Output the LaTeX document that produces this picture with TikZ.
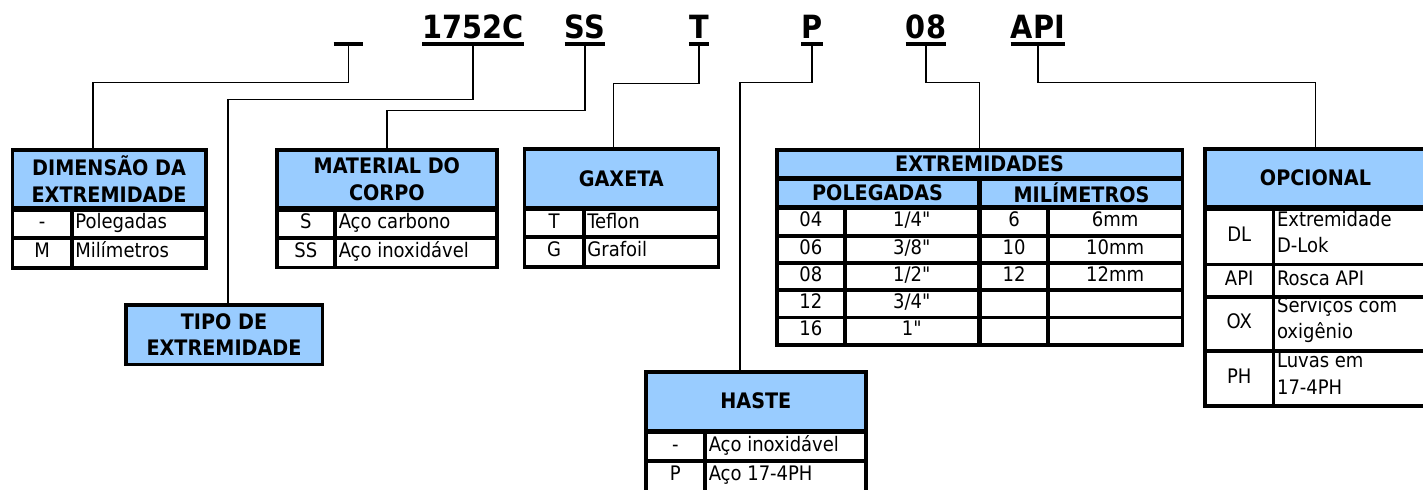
\documentclass[tikz,border=0pt]{standalone}
\usepackage{fontspec}
\setmainfont{DejaVu Sans Condensed}[Ligatures=TeXOff]
\usepackage{tikz}
\usetikzlibrary{calc}
\definecolor{hdrblue}{RGB}{153,204,255}

\begin{document}
\begin{tikzpicture}[x=0.75pt,y=-0.75pt,
  code/.style={font=\fontsize{24}{28}\selectfont\bfseries,inner sep=0pt,anchor=base,text depth=4.5pt},
  uline/.style={line width=3pt},
  conn/.style={line width=1.1pt},
  hdr/.style={draw,fill=hdrblue,line width=2.7pt,inner sep=0pt,font=\fontsize{16}{20}\selectfont\bfseries},
  hdr2/.style={hdr,align=center},
  cellbox/.style={draw,line width=2.7pt},
  val/.style={inner sep=0pt,font=\fontsize{15}{20}\selectfont,text height=0.73em,text depth=0pt},
  desc/.style={val,anchor=west},
  desc2/.style={inner sep=0pt,anchor=west,align=left,font=\fontsize{15}{20}\selectfont}]
\useasboundingbox (0,0) rectangle (1423,489);
\clip (0,0) rectangle (1423,489);

% code line
\node[code,minimum width=21.75pt] (cblank) at (348.5,38) {};
\node[code] (cbase) at (473,38) {1752C};
\node[code] (cbody) at (585,38) {SS};
\node[code] (cgask) at (699,38) {T};
\node[code] (cstem) at (812,38) {P};
\node[code] (cend) at (926,38) {08};
\node[code] (copt) at (1038,38) {API};
\foreach \n in {cblank,cbase,cbody,cgask,cstem,cend,copt}
  \draw[uline] (\n.south west) -- (\n.south east);

% dimensao da extremidade
\node[hdr2,minimum width=144.9pt,minimum height=43.5pt] (dimhdr) at (109.1,179) {DIMENSÃO DA\\EXTREMIDADE};
\draw[cellbox] (12.5,210) rectangle (71.7,238) (71.7,210) rectangle (205.7,238);
\draw[cellbox] (12.5,238) rectangle (71.7,267.7) (71.7,238) rectangle (205.7,267.7);
\node[val] (dimp) at (42.1,224) {-};
\node[desc] (dimpt) at (75.2,224) {Polegadas};
\node[val] (dimm) at (42.1,252.8) {M};
\node[desc] (dimmt) at (75.2,252.8) {Milímetros};

% tipo de extremidade
\node[hdr2,minimum width=147.45pt,minimum height=44.5pt] (tipohdr) at (224,334.65) {TIPO DE\\EXTREMIDADE};

% material do corpo
\node[hdr2,minimum width=165.2pt,minimum height=43.5pt] (mathdr) at (386.85,179) {MATERIAL DO\\CORPO};
\draw[cellbox] (276.7,210) rectangle (335,238) (335,210) rectangle (497,238);
\draw[cellbox] (276.7,238) rectangle (335,267.5) (335,238) rectangle (497,267.5);
\node[val] (mats) at (305.8,224) {S};
\node[desc] (matst) at (338.5,224) {Aço carbono};
\node[val] (matss) at (305.8,252.8) {SS};
\node[desc] (matsst) at (338.5,252.8) {Aço inoxidável};

% gaxeta
\node[hdr,minimum width=145.5pt,minimum height=43.9pt] (gaxhdr) at (621.3,178.25) {GAXETA};
\draw[cellbox] (524.3,209.5) rectangle (583.7,237) (583.7,209.5) rectangle (718.3,237);
\draw[cellbox] (524.3,237) rectangle (583.7,267) (583.7,237) rectangle (718.3,267);
\node[val] (gaxt) at (554,223.2) {T};
\node[desc] (gaxtt) at (587.2,223.2) {Teflon};
\node[val] (gaxg) at (554,252) {G};
\node[desc] (gaxgt) at (587.2,252) {Grafoil};

% haste
\node[hdr,minimum width=165.2pt,minimum height=44.1pt] (hastehdr) at (755.85,401.1) {HASTE};
\draw[cellbox] (645.7,432.5) rectangle (705,461.2) (705,432.5) rectangle (866,461.2);
\draw[cellbox] (645.7,461.2) rectangle (705,493) (705,461.2) rectangle (866,493);
\node[val] (hastea) at (675.3,446.8) {-};
\node[desc] (hasteat) at (708.5,446.8) {Aço inoxidável};
\node[val] (hasteb) at (675.3,476) {P};
\node[desc] (hastebt) at (708.5,476) {Aço 17-4PH};

% extremidades
\node[hdr,minimum width=304.35pt,minimum height=20.6pt] (exthdr) at (979.6,163.75) {EXTREMIDADES};
\node[hdr,minimum width=151.35pt,minimum height=20.6pt] (extpol) at (877.6,192.75) {POLEGADAS};
\node[hdr,minimum width=151.5pt,minimum height=20.6pt] (extmil) at (1081.5,192.75) {MILÍMETROS};
\foreach \pa/\pb/\ma/\mb [count=\i] in {04/{1/4"}/6/6mm,06/{3/8"}/10/10mm,08/{1/2"}/12/12mm,12/{3/4"}/{}/{},16/{1"}/{}/{}}{
  \pgfmathsetmacro\yt{208.5+27.24*(\i-1)}
  \pgfmathsetmacro\yb{\yt+27.24}
  \pgfmathsetmacro\ym{\yt+13.62}
  \draw[cellbox] (776.7,\yt) rectangle (845,\yb) (845,\yt) rectangle (978.5,\yb)
    (980.5,\yt) rectangle (1047.7,\yb) (1047.7,\yt) rectangle (1182.5,\yb);
  \node[val] (extp\i) at (810.9,\ym) {\pa};
  \node[val] (extq\i) at (911.8,\ym) {\pb};
  \node[val] (extm\i) at (1014.1,\ym) {\ma};
  \node[val] (extn\i) at (1115.1,\ym) {\mb};
}

% opcional
\node[hdr,minimum width=165.75pt,minimum height=43.5pt] (opchdr) at (1315.5,178) {OPCIONAL};
\draw[cellbox] (1205,209.5) rectangle (1273.3,264.5) (1273.3,209.5) rectangle (1426,264.5);
\draw[cellbox] (1205,264.5) rectangle (1273.3,296.7) (1273.3,264.5) rectangle (1426,296.7);
\draw[cellbox] (1205,296.7) rectangle (1273.3,350.8) (1273.3,296.7) rectangle (1426,350.8);
\draw[cellbox] (1205,350.8) rectangle (1273.3,405.8) (1273.3,350.8) rectangle (1426,405.8);
\node[val] (opcdl) at (1239.2,237) {DL};
\node[desc2] (opcdlt) at (1276.8,232) {Extremidade\\D-Lok};
\node[val] (opcapi) at (1239.2,280.6) {API};
\node[desc] (opcapit) at (1276.8,280.6) {Rosca API};
\node[val] (opcox) at (1239.2,323.7) {OX};
\node[desc2] (opcoxt) at (1276.8,320) {Serviços com\\oxigênio};
\node[val] (opcph) at (1239.2,378.3) {PH};
\node[desc2] (opcpht) at (1276.8,373.5) {Luvas em\\17-4PH};

% connectors
\draw[conn] (cblank.south) -- ++(0,38) -| ($(dimhdr.north)+(-16,0)$);
\draw[conn] (cbase.south) -- ++(0,55) -| ($(tipohdr.north)+(4,0)$);
\draw[conn] (cbody.south) -- ++(0,66) -| (mathdr.north);
\draw[conn] (cgask.south) -- ++(0,39) -| ($(gaxhdr.north)+(-8,0)$);
\draw[conn] (cstem.south) -- ++(0,38) -| ($(hastehdr.north)+(-16,0)$);
\draw[conn] (cend.south) -- ++(0,38) -| (exthdr.north);
\draw[conn] (copt.south) -- ++(0,38) -| (opchdr.north);
\end{tikzpicture}
\end{document}
